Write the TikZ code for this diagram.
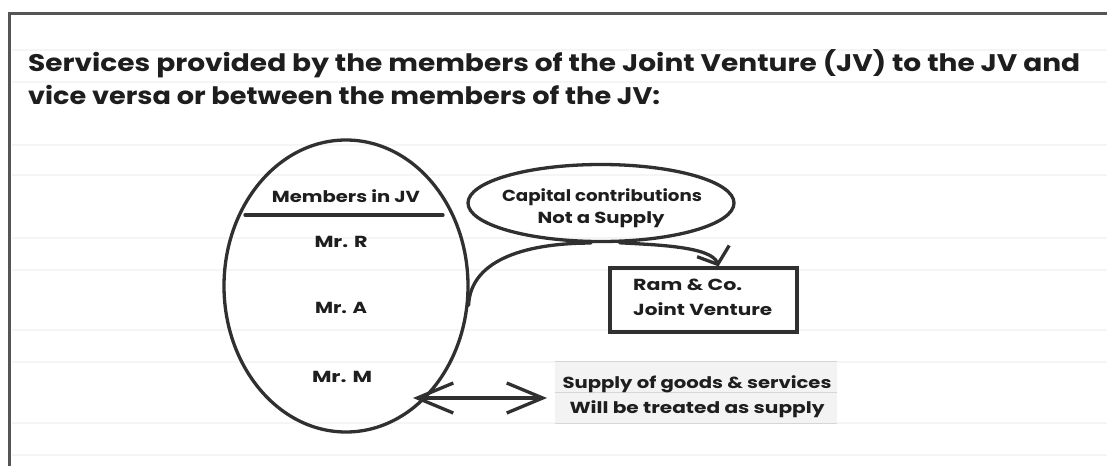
\documentclass[tikz,border=0pt]{standalone}
\usepackage{fontspec}
\setmainfont{Poppins}
\usetikzlibrary{arrows.meta,shapes.geometric}
\definecolor{inkc}{HTML}{303030}
\definecolor{framec}{HTML}{555555}
\definecolor{txtc}{HTML}{1E1E1E}
\definecolor{rulec}{HTML}{F5F5F5}
\definecolor{boxfill}{HTML}{F3F3F3}
\definecolor{boxline}{HTML}{D6D6D6}
\newcommand{\fitw}[2]{\resizebox{#1}{\height}{#2}}
\begin{document}
\begin{tikzpicture}[x=1pt,y=-1pt,
  ink/.style={draw=inkc, line width=3.3pt, line cap=round},
  lbl/.style={inner sep=0pt, text=txtc, anchor=base, font=\fontsize{16}{18}\selectfont\bfseries},
  ttl/.style={inner sep=0pt, text=txtc, anchor=base west, font=\fontsize{24}{28}\selectfont\bfseries},
  rulel/.style={draw=rulec, line width=1.2pt},
  barb/.style={ink, arrows={-Straight Barb[length=14pt,width=34pt]}},
  dbl/.style={ink, arrows={Straight Barb[length=36pt,width=30pt]-Straight Barb[length=36pt,width=30pt]}}]
\useasboundingbox (0,0) rectangle (1107,466);
\fill[white] (0,0) rectangle (1107,466);
% faint ruled lines
\foreach \y in {50,82,145,175,238,270,330,362,423,455}
  \draw[rulel] (12,\y) -- (1107,\y);
% frame
\draw[draw=framec, line width=3pt] (9,466) -- (9,13) -- (1107,13);
% title
\node[ttl] (t1) at (28,71) {\fitw{1052pt}{Services provided by the members of the Joint Venture (JV) to the JV and}};
\node[ttl] (t2) at (28,104) {\fitw{632pt}{vice versa or between the members of the JV:}};
% members ellipse
\node[ellipse, ink, minimum width=244pt, minimum height=292pt, inner sep=0pt] (mem) at (346,286) {};
\draw[ink] (245,215) -- (443,215);
\node[lbl] (mh) at (346,202) {\fitw{148pt}{Members in JV}};
\node[lbl] (mr) at (341,247) {\fitw{53pt}{Mr. R}};
\node[lbl] (ma) at (341,313) {\fitw{52pt}{Mr. A}};
\node[lbl] (mm) at (342,382) {\fitw{60pt}{Mr. M}};
% capital ellipse
\node[ellipse, ink, minimum width=266pt, minimum height=77pt, inner sep=0pt] (cap) at (601,203) {};
\node[lbl] (c1) at (602,201) {\fitw{200pt}{Capital contributions}};
\node[lbl] (c2) at (601,223) {\fitw{127pt}{Not a Supply}};
% JV box
\node[rectangle, ink, minimum width=187pt, minimum height=64pt, inner sep=0pt] (jv) at (703.5,300) {};
\node[lbl, anchor=base west] (j1) at (633,290) {\fitw{109pt}{Ram \& Co.}};
\node[lbl, anchor=base west] (j2) at (633,315) {\fitw{139pt}{Joint Venture}};
% supply box
\node[rectangle, fill=boxfill, minimum width=282pt, minimum height=61pt, inner sep=0pt] (sup) at (696,392.5) {};
\draw[draw=boxline, line width=1.2pt] (sup.north west) -- (sup.north east);
\draw[draw=boxline, line width=1.2pt] (sup.west) -- (sup.east);
\draw[draw=boxline, line width=1.2pt] (sup.south west) -- (sup.south east);
\node[lbl] (s1) at (697,388) {\fitw{269pt}{Supply of goods \& services}};
\node[lbl] (s2) at (697,413) {\fitw{255pt}{Will be treated as supply}};
% connectors
\draw[ink] (mem.-9) .. controls +(2,-48) and +(-60,0) .. (cap.-104);
\draw[barb] (cap.-65) .. controls +(35,2) and +(-7,-20) .. (jv.66);
\coordinate (la) at (413,398);
\coordinate (ra) at (547,398);
\draw[dbl] (la) -- (ra);
\end{tikzpicture}
\end{document}
